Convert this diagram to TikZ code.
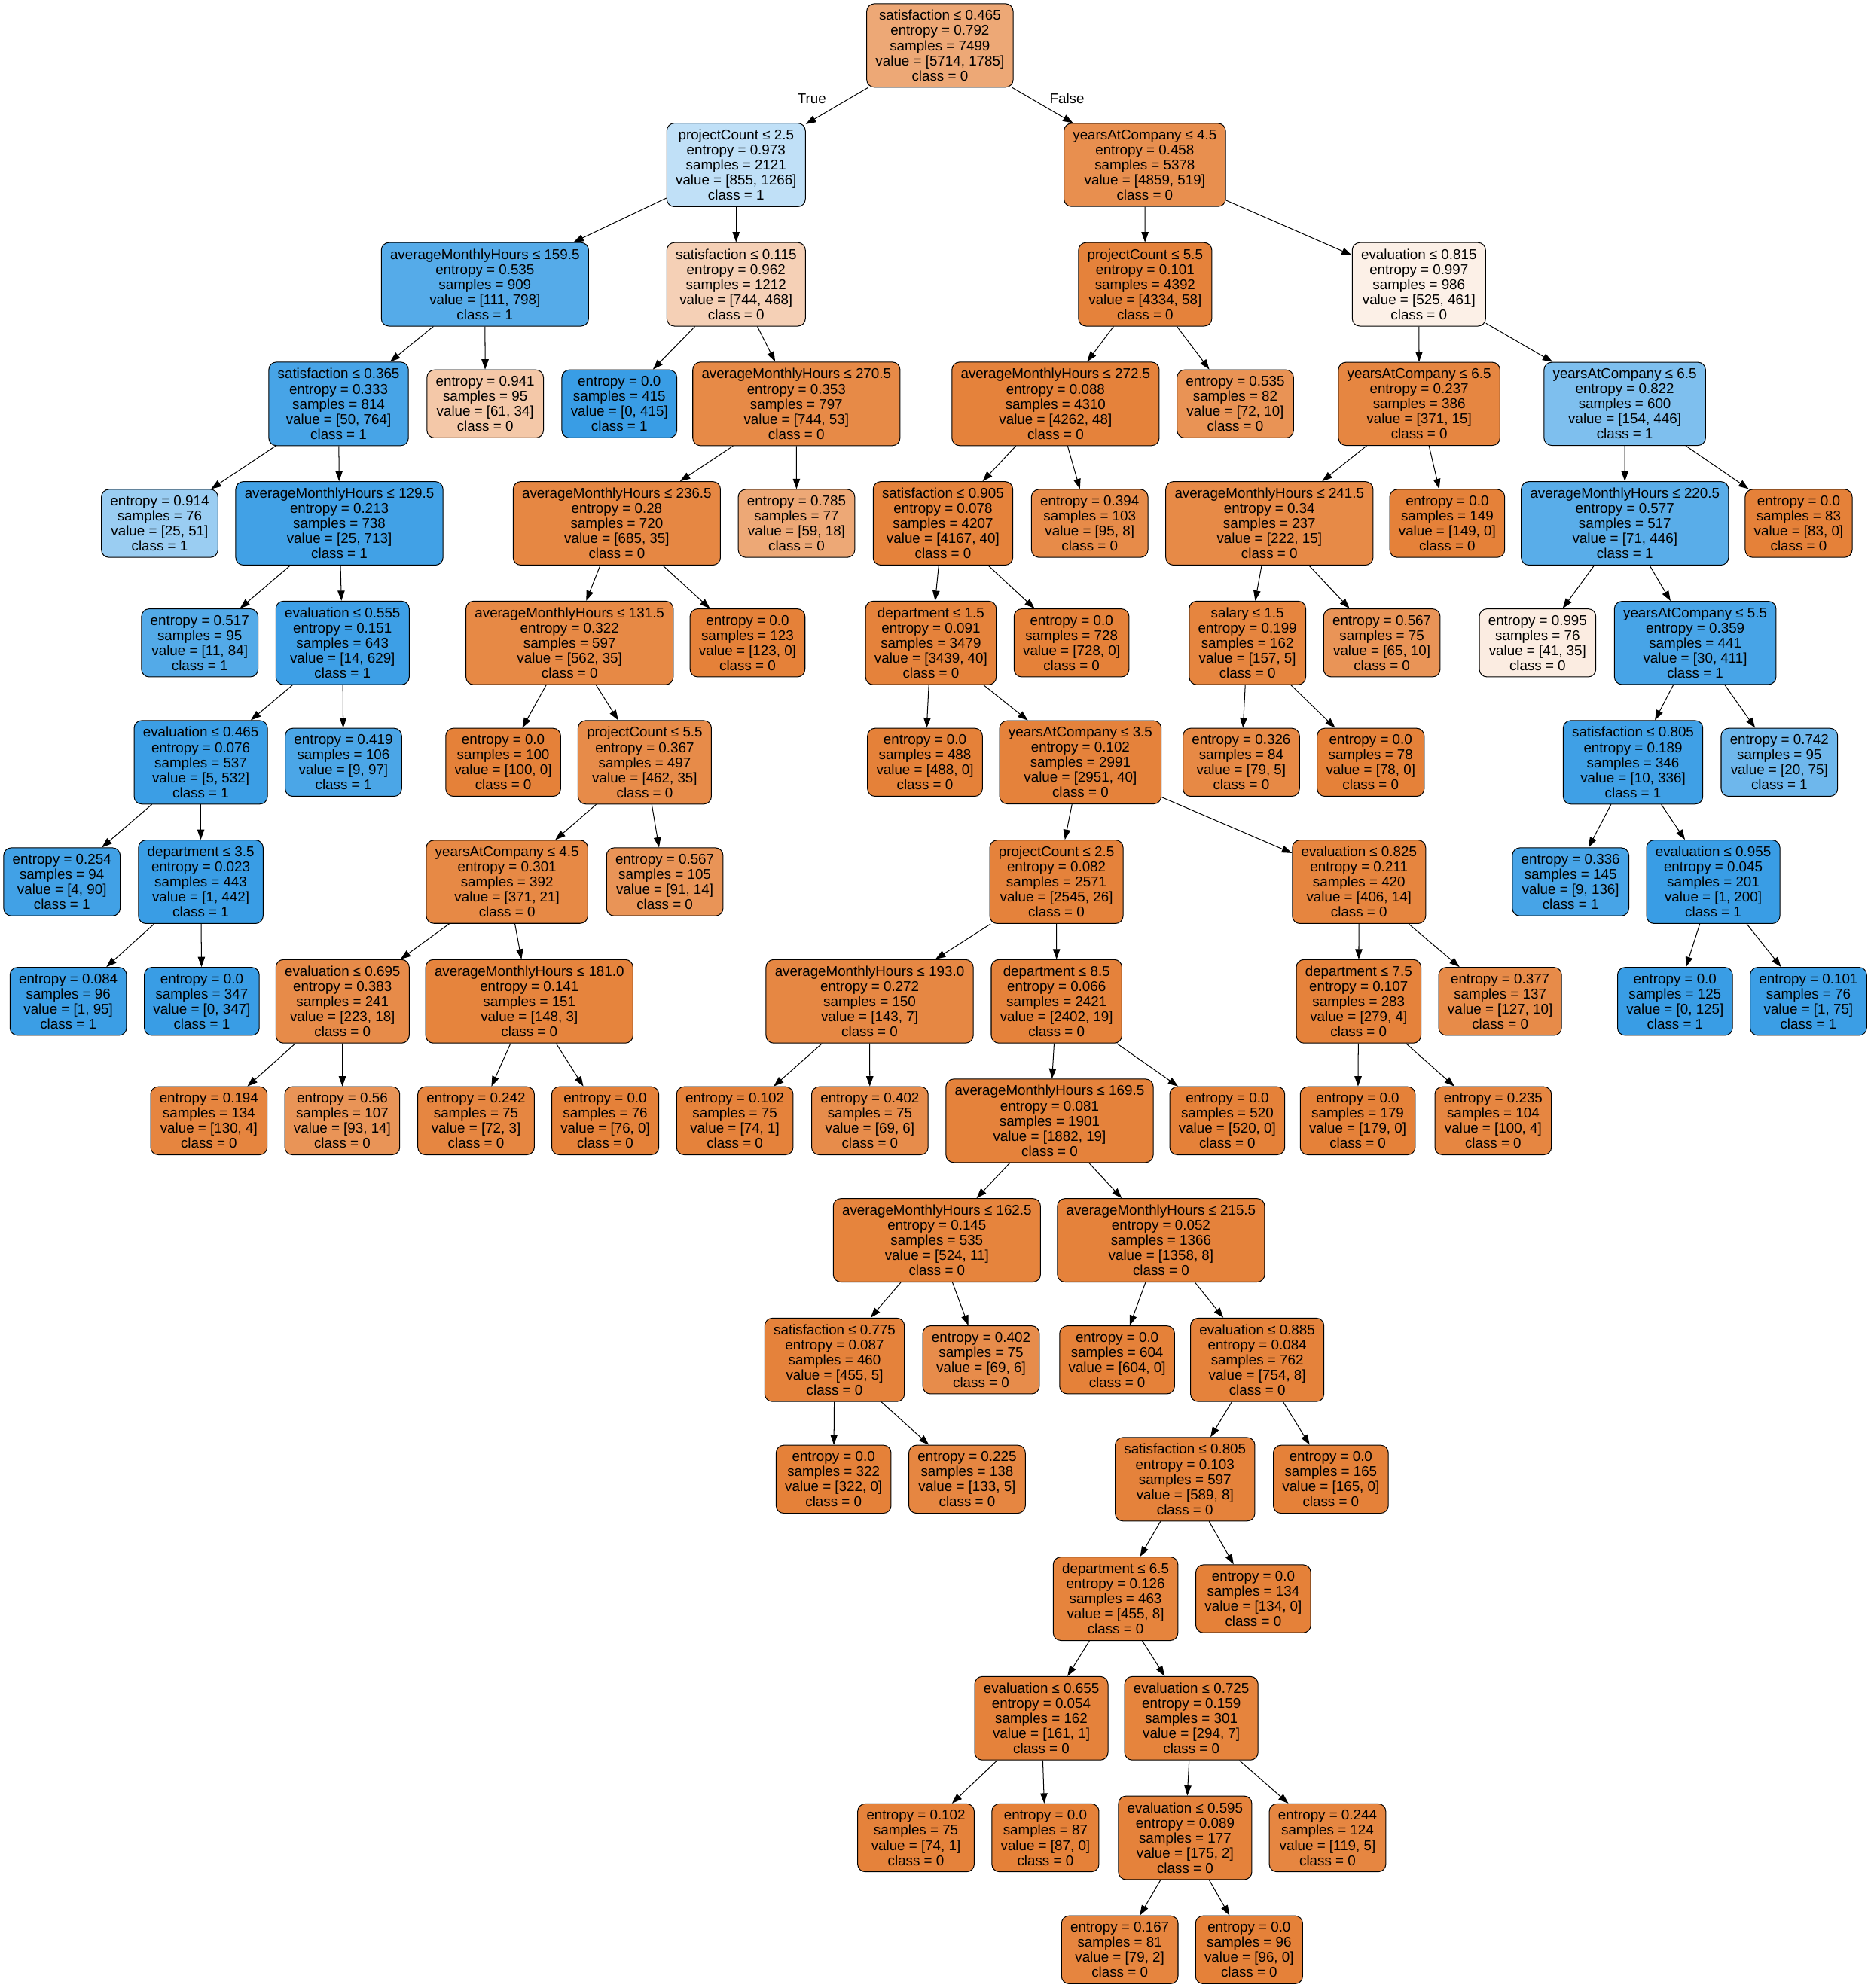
\documentclass[tikz,border=0pt]{standalone}
\usepackage{fontspec}
\setmainfont{Liberation Sans}
\usetikzlibrary{arrows.meta}
\definecolor{classzero}{RGB}{229,129,57}
\definecolor{classone}{RGB}{57,157,229}

\begin{document}
\begin{tikzpicture}[
    x=1pt, y=-1pt,
    align=center,
    box/.style={draw, line width=0.6pt, rounded corners=6pt, inner xsep=7pt, inner ysep=5pt, font=\fontsize{11.15}{11.9}\selectfont},
    tnode/.style 2 args={box, /utils/exec={\pgfmathtruncatemacro\tmix{round(100*(1-min(#1,#2)/max(#1,#2)))}\ifnum#1<#2\relax\colorlet{tfill}{classone!\tmix!white}\else\colorlet{tfill}{classzero!\tmix!white}\fi}, fill=tfill},
    lbl/.style={inner sep=0pt, font=\fontsize{11.15}{11.9}\selectfont},
    arrow/.style={-{Triangle[length=8pt, width=5.6pt]}, line width=0.6pt}
]
\useasboundingbox[fill=white] (0,0) rectangle (1474.2,1566.8);

% Nodes
\node (n0) [tnode={5714}{1785}] at (740.6,35.8) {satisfaction ≤ 0.465\\entropy = 0.792\\samples = 7499\\value = [5714, 1785]\\class = 0};
\node (n1) [tnode={855}{1266}] at (580.0,130.0) {projectCount ≤ 2.5\\entropy = 0.973\\samples = 2121\\value = [855, 1266]\\class = 1};
\node (n2) [tnode={111}{798}] at (382.1,224.1) {averageMonthlyHours ≤ 159.5\\entropy = 0.535\\samples = 909\\value = [111, 798]\\class = 1};
\node (n3) [tnode={50}{764}] at (266.8,318.3) {satisfaction ≤ 0.365\\entropy = 0.333\\samples = 814\\value = [50, 764]\\class = 1};
\node (n4) [tnode={25}{51}] at (125.8,412.5) {entropy = 0.914\\samples = 76\\value = [25, 51]\\class = 1};
\node (n5) [tnode={25}{713}] at (267.4,412.5) {averageMonthlyHours ≤ 129.5\\entropy = 0.213\\samples = 738\\value = [25, 713]\\class = 1};
\node (n6) [tnode={11}{84}] at (157.4,506.7) {entropy = 0.517\\samples = 95\\value = [11, 84]\\class = 1};
\node (n7) [tnode={14}{629}] at (269.9,506.7) {evaluation ≤ 0.555\\entropy = 0.151\\samples = 643\\value = [14, 629]\\class = 1};
\node (n8) [tnode={5}{532}] at (158.2,600.8) {evaluation ≤ 0.465\\entropy = 0.076\\samples = 537\\value = [5, 532]\\class = 1};
\node (n9) [tnode={4}{90}] at (48.8,695.0) {entropy = 0.254\\samples = 94\\value = [4, 90]\\class = 1};
\node (n10) [tnode={1}{442}] at (158.2,695.0) {department ≤ 3.5\\entropy = 0.023\\samples = 443\\value = [1, 442]\\class = 1};
\node (n11) [tnode={1}{95}] at (53.8,789.2) {entropy = 0.084\\samples = 96\\value = [1, 95]\\class = 1};
\node (n12) [tnode={0}{347}] at (159.0,789.2) {entropy = 0.0\\samples = 347\\value = [0, 347]\\class = 1};
\node (n13) [tnode={9}{97}] at (270.6,600.8) {entropy = 0.419\\samples = 106\\value = [9, 97]\\class = 1};
\node (n14) [tnode={61}{34}] at (382.3,318.3) {entropy = 0.941\\samples = 95\\value = [61, 34]\\class = 0};
\node (n15) [tnode={744}{468}] at (580.0,224.1) {satisfaction ≤ 0.115\\entropy = 0.962\\samples = 1212\\value = [744, 468]\\class = 0};
\node (n16) [tnode={0}{415}] at (488.0,318.3) {entropy = 0.0\\samples = 415\\value = [0, 415]\\class = 1};
\node (n17) [tnode={744}{53}] at (627.5,318.3) {averageMonthlyHours ≤ 270.5\\entropy = 0.353\\samples = 797\\value = [744, 53]\\class = 0};
\node (n18) [tnode={685}{35}] at (486.0,412.5) {averageMonthlyHours ≤ 236.5\\entropy = 0.28\\samples = 720\\value = [685, 35]\\class = 0};
\node (n19) [tnode={562}{35}] at (448.8,506.7) {averageMonthlyHours ≤ 131.5\\entropy = 0.322\\samples = 597\\value = [562, 35]\\class = 0};
\node (n20) [tnode={100}{0}] at (396.5,600.8) {entropy = 0.0\\samples = 100\\value = [100, 0]\\class = 0};
\node (n21) [tnode={462}{35}] at (508.0,600.8) {projectCount ≤ 5.5\\entropy = 0.367\\samples = 497\\value = [462, 35]\\class = 0};
\node (n22) [tnode={371}{21}] at (399.5,695.0) {yearsAtCompany ≤ 4.5\\entropy = 0.301\\samples = 392\\value = [371, 21]\\class = 0};
\node (n23) [tnode={223}{18}] at (269.9,789.2) {evaluation ≤ 0.695\\entropy = 0.383\\samples = 241\\value = [223, 18]\\class = 0};
\node (n24) [tnode={130}{4}] at (164.6,883.3) {entropy = 0.194\\samples = 134\\value = [130, 4]\\class = 0};
\node (n25) [tnode={93}{14}] at (269.7,883.3) {entropy = 0.56\\samples = 107\\value = [93, 14]\\class = 0};
\node (n26) [tnode={148}{3}] at (417.1,789.2) {averageMonthlyHours ≤ 181.0\\entropy = 0.141\\samples = 151\\value = [148, 3]\\class = 0};
\node (n27) [tnode={72}{3}] at (375.1,883.3) {entropy = 0.242\\samples = 75\\value = [72, 3]\\class = 0};
\node (n28) [tnode={76}{0}] at (476.9,883.3) {entropy = 0.0\\samples = 76\\value = [76, 0]\\class = 0};
\node (n29) [tnode={91}{14}] at (523.8,695.0) {entropy = 0.567\\samples = 105\\value = [91, 14]\\class = 0};
\node (n30) [tnode={123}{0}] at (589.0,506.7) {entropy = 0.0\\samples = 123\\value = [123, 0]\\class = 0};
\node (n31) [tnode={59}{18}] at (627.6,412.5) {entropy = 0.785\\samples = 77\\value = [59, 18]\\class = 0};
\node (n32) [tnode={4859}{519}] at (902.0,130.0) {yearsAtCompany ≤ 4.5\\entropy = 0.458\\samples = 5378\\value = [4859, 519]\\class = 0};
\node (n33) [tnode={4334}{58}] at (902.3,224.1) {projectCount ≤ 5.5\\entropy = 0.101\\samples = 4392\\value = [4334, 58]\\class = 0};
\node (n34) [tnode={4262}{48}] at (831.7,318.3) {averageMonthlyHours ≤ 272.5\\entropy = 0.088\\samples = 4310\\value = [4262, 48]\\class = 0};
\node (n35) [tnode={4167}{40}] at (743.0,412.5) {satisfaction ≤ 0.905\\entropy = 0.078\\samples = 4207\\value = [4167, 40]\\class = 0};
\node (n36) [tnode={3439}{40}] at (733.5,506.7) {department ≤ 1.5\\entropy = 0.091\\samples = 3479\\value = [3439, 40]\\class = 0};
\node (n37) [tnode={488}{0}] at (728.8,600.8) {entropy = 0.0\\samples = 488\\value = [488, 0]\\class = 0};
\node (n38) [tnode={2951}{40}] at (851.3,600.8) {yearsAtCompany ≤ 3.5\\entropy = 0.102\\samples = 2991\\value = [2951, 40]\\class = 0};
\node (n39) [tnode={2545}{26}] at (832.4,695.0) {projectCount ≤ 2.5\\entropy = 0.082\\samples = 2571\\value = [2545, 26]\\class = 0};
\node (n40) [tnode={143}{7}] at (685.2,789.2) {averageMonthlyHours ≤ 193.0\\entropy = 0.272\\samples = 150\\value = [143, 7]\\class = 0};
\node (n41) [tnode={74}{1}] at (579.0,883.3) {entropy = 0.102\\samples = 75\\value = [74, 1]\\class = 0};
\node (n42) [tnode={69}{6}] at (685.4,883.3) {entropy = 0.402\\samples = 75\\value = [69, 6]\\class = 0};
\node (n43) [tnode={2402}{19}] at (832.5,789.2) {department ≤ 8.5\\entropy = 0.066\\samples = 2421\\value = [2402, 19]\\class = 0};
\node (n44) [tnode={1882}{19}] at (827.0,883.3) {averageMonthlyHours ≤ 169.5\\entropy = 0.081\\samples = 1901\\value = [1882, 19]\\class = 0};
\node (n45) [tnode={524}{11}] at (738.2,977.5) {averageMonthlyHours ≤ 162.5\\entropy = 0.145\\samples = 535\\value = [524, 11]\\class = 0};
\node (n46) [tnode={455}{5}] at (657.6,1071.7) {satisfaction ≤ 0.775\\entropy = 0.087\\samples = 460\\value = [455, 5]\\class = 0};
\node (n47) [tnode={322}{0}] at (656.8,1165.8) {entropy = 0.0\\samples = 322\\value = [322, 0]\\class = 0};
\node (n48) [tnode={133}{5}] at (762.0,1165.8) {entropy = 0.225\\samples = 138\\value = [133, 5]\\class = 0};
\node (n49) [tnode={69}{6}] at (773.0,1071.7) {entropy = 0.402\\samples = 75\\value = [69, 6]\\class = 0};
\node (n50) [tnode={1358}{8}] at (914.8,977.5) {averageMonthlyHours ≤ 215.5\\entropy = 0.052\\samples = 1366\\value = [1358, 8]\\class = 0};
\node (n51) [tnode={604}{0}] at (880.2,1071.7) {entropy = 0.0\\samples = 604\\value = [604, 0]\\class = 0};
\node (n52) [tnode={754}{8}] at (990.6,1071.7) {evaluation ≤ 0.885\\entropy = 0.084\\samples = 762\\value = [754, 8]\\class = 0};
\node (n53) [tnode={589}{8}] at (933.7,1165.8) {satisfaction ≤ 0.805\\entropy = 0.103\\samples = 597\\value = [589, 8]\\class = 0};
\node (n54) [tnode={455}{8}] at (879.0,1260.0) {department ≤ 6.5\\entropy = 0.126\\samples = 463\\value = [455, 8]\\class = 0};
\node (n55) [tnode={161}{1}] at (820.5,1354.2) {evaluation ≤ 0.655\\entropy = 0.054\\samples = 162\\value = [161, 1]\\class = 0};
\node (n56) [tnode={74}{1}] at (721.7,1448.4) {entropy = 0.102\\samples = 75\\value = [74, 1]\\class = 0};
\node (n57) [tnode={87}{0}] at (823.7,1448.4) {entropy = 0.0\\samples = 87\\value = [87, 0]\\class = 0};
\node (n58) [tnode={294}{7}] at (938.7,1354.2) {evaluation ≤ 0.725\\entropy = 0.159\\samples = 301\\value = [294, 7]\\class = 0};
\node (n59) [tnode={175}{2}] at (933.8,1448.4) {evaluation ≤ 0.595\\entropy = 0.089\\samples = 177\\value = [175, 2]\\class = 0};
\node (n60) [tnode={79}{2}] at (882.3,1536.7) {entropy = 0.167\\samples = 81\\value = [79, 2]\\class = 0};
\node (n61) [tnode={96}{0}] at (984.2,1536.7) {entropy = 0.0\\samples = 96\\value = [96, 0]\\class = 0};
\node (n62) [tnode={119}{5}] at (1046.0,1448.4) {entropy = 0.244\\samples = 124\\value = [119, 5]\\class = 0};
\node (n63) [tnode={134}{0}] at (987.5,1260.0) {entropy = 0.0\\samples = 134\\value = [134, 0]\\class = 0};
\node (n64) [tnode={165}{0}] at (1048.6,1165.8) {entropy = 0.0\\samples = 165\\value = [165, 0]\\class = 0};
\node (n65) [tnode={520}{0}] at (967.0,883.3) {entropy = 0.0\\samples = 520\\value = [520, 0]\\class = 0};
\node (n66) [tnode={406}{14}] at (1070.8,695.0) {evaluation ≤ 0.825\\entropy = 0.211\\samples = 420\\value = [406, 14]\\class = 0};
\node (n67) [tnode={279}{4}] at (1070.5,789.2) {department ≤ 7.5\\entropy = 0.107\\samples = 283\\value = [279, 4]\\class = 0};
\node (n68) [tnode={179}{0}] at (1069.8,883.3) {entropy = 0.0\\samples = 179\\value = [179, 0]\\class = 0};
\node (n69) [tnode={100}{4}] at (1176.5,883.3) {entropy = 0.235\\samples = 104\\value = [100, 4]\\class = 0};
\node (n70) [tnode={127}{10}] at (1182.0,789.2) {entropy = 0.377\\samples = 137\\value = [127, 10]\\class = 0};
\node (n71) [tnode={728}{0}] at (844.3,506.7) {entropy = 0.0\\samples = 728\\value = [728, 0]\\class = 0};
\node (n72) [tnode={95}{8}] at (858.6,412.5) {entropy = 0.394\\samples = 103\\value = [95, 8]\\class = 0};
\node (n73) [tnode={72}{10}] at (973.3,318.3) {entropy = 0.535\\samples = 82\\value = [72, 10]\\class = 0};
\node (n74) [tnode={525}{461}] at (1118.0,224.1) {evaluation ≤ 0.815\\entropy = 0.997\\samples = 986\\value = [525, 461]\\class = 0};
\node (n75) [tnode={371}{15}] at (1118.2,318.3) {yearsAtCompany ≤ 6.5\\entropy = 0.237\\samples = 386\\value = [371, 15]\\class = 0};
\node (n76) [tnode={222}{15}] at (1000.2,412.5) {averageMonthlyHours ≤ 241.5\\entropy = 0.34\\samples = 237\\value = [222, 15]\\class = 0};
\node (n77) [tnode={157}{5}] at (982.9,506.7) {salary ≤ 1.5\\entropy = 0.199\\samples = 162\\value = [157, 5]\\class = 0};
\node (n78) [tnode={79}{5}] at (978.0,600.8) {entropy = 0.326\\samples = 84\\value = [79, 5]\\class = 0};
\node (n79) [tnode={78}{0}] at (1080.0,600.8) {entropy = 0.0\\samples = 78\\value = [78, 0]\\class = 0};
\node (n80) [tnode={65}{10}] at (1088.8,506.7) {entropy = 0.567\\samples = 75\\value = [65, 10]\\class = 0};
\node (n81) [tnode={149}{0}] at (1140.3,412.5) {entropy = 0.0\\samples = 149\\value = [149, 0]\\class = 0};
\node (n82) [tnode={154}{446}] at (1280.2,318.3) {yearsAtCompany ≤ 6.5\\entropy = 0.822\\samples = 600\\value = [154, 446]\\class = 1};
\node (n83) [tnode={71}{446}] at (1280.3,412.5) {averageMonthlyHours ≤ 220.5\\entropy = 0.577\\samples = 517\\value = [71, 446]\\class = 1};
\node (n84) [tnode={41}{35}] at (1211.5,506.7) {entropy = 0.995\\samples = 76\\value = [41, 35]\\class = 0};
\node (n85) [tnode={30}{411}] at (1335.7,506.7) {yearsAtCompany ≤ 5.5\\entropy = 0.359\\samples = 441\\value = [30, 411]\\class = 1};
\node (n86) [tnode={10}{336}] at (1286.7,600.8) {satisfaction ≤ 0.805\\entropy = 0.189\\samples = 346\\value = [10, 336]\\class = 1};
\node (n87) [tnode={9}{136}] at (1237.5,695.0) {entropy = 0.336\\samples = 145\\value = [9, 136]\\class = 1};
\node (n88) [tnode={1}{200}] at (1349.9,695.0) {evaluation ≤ 0.955\\entropy = 0.045\\samples = 201\\value = [1, 200]\\class = 1};
\node (n89) [tnode={0}{125}] at (1319.8,789.2) {entropy = 0.0\\samples = 125\\value = [0, 125]\\class = 1};
\node (n90) [tnode={1}{75}] at (1424.9,789.2) {entropy = 0.101\\samples = 76\\value = [1, 75]\\class = 1};
\node (n91) [tnode={20}{75}] at (1402.0,600.8) {entropy = 0.742\\samples = 95\\value = [20, 75]\\class = 1};
\node (n92) [tnode={83}{0}] at (1417.2,412.5) {entropy = 0.0\\samples = 83\\value = [83, 0]\\class = 0};

% Edge labels
\node (truelbl) [lbl] at (639.7,77.8) {True};
\node (falselbl) [lbl] at (840.7,77.8) {False};

% Edges
\draw [arrow] (n0) -- (n1);
\draw [arrow] (n0) -- (n32);

\draw [arrow] (n1) -- (n2);
\draw [arrow] (n1) -- (n15);
\draw [arrow] (n2) -- (n3);
\draw [arrow] (n2) -- (n14);
\draw [arrow] (n3) -- (n4);
\draw [arrow] (n3) -- (n5);
\draw [arrow] (n5) -- (n6);
\draw [arrow] (n5) -- (n7);
\draw [arrow] (n7) -- (n8);
\draw [arrow] (n7) -- (n13);
\draw [arrow] (n8) -- (n9);
\draw [arrow] (n8) -- (n10);
\draw [arrow] (n10) -- (n11);
\draw [arrow] (n10) -- (n12);
\draw [arrow] (n15) -- (n16);
\draw [arrow] (n15) -- (n17);
\draw [arrow] (n17) -- (n18);
\draw [arrow] (n17) -- (n31);
\draw [arrow] (n18) -- (n19);
\draw [arrow] (n18) -- (n30);
\draw [arrow] (n19) -- (n20);
\draw [arrow] (n19) -- (n21);
\draw [arrow] (n21) -- (n22);
\draw [arrow] (n21) -- (n29);
\draw [arrow] (n22) -- (n23);
\draw [arrow] (n22) -- (n26);
\draw [arrow] (n23) -- (n24);
\draw [arrow] (n23) -- (n25);
\draw [arrow] (n26) -- (n27);
\draw [arrow] (n26) -- (n28);

\draw [arrow] (n32) -- (n33);
\draw [arrow] (n32) -- (n74);
\draw [arrow] (n33) -- (n34);
\draw [arrow] (n33) -- (n73);
\draw [arrow] (n34) -- (n35);
\draw [arrow] (n34) -- (n72);
\draw [arrow] (n35) -- (n36);
\draw [arrow] (n35) -- (n71);
\draw [arrow] (n36) -- (n37);
\draw [arrow] (n36) -- (n38);
\draw [arrow] (n38) -- (n39);
\draw [arrow] (n38) -- (n66);
\draw [arrow] (n39) -- (n40);
\draw [arrow] (n39) -- (n43);
\draw [arrow] (n40) -- (n41);
\draw [arrow] (n40) -- (n42);
\draw [arrow] (n43) -- (n44);
\draw [arrow] (n43) -- (n65);
\draw [arrow] (n44) -- (n45);
\draw [arrow] (n44) -- (n50);
\draw [arrow] (n45) -- (n46);
\draw [arrow] (n45) -- (n49);
\draw [arrow] (n46) -- (n47);
\draw [arrow] (n46) -- (n48);
\draw [arrow] (n50) -- (n51);
\draw [arrow] (n50) -- (n52);
\draw [arrow] (n52) -- (n53);
\draw [arrow] (n52) -- (n64);
\draw [arrow] (n53) -- (n54);
\draw [arrow] (n53) -- (n63);
\draw [arrow] (n54) -- (n55);
\draw [arrow] (n54) -- (n58);
\draw [arrow] (n55) -- (n56);
\draw [arrow] (n55) -- (n57);
\draw [arrow] (n58) -- (n59);
\draw [arrow] (n58) -- (n62);
\draw [arrow] (n59) -- (n60);
\draw [arrow] (n59) -- (n61);
\draw [arrow] (n66) -- (n67);
\draw [arrow] (n66) -- (n70);
\draw [arrow] (n67) -- (n68);
\draw [arrow] (n67) -- (n69);

\draw [arrow] (n74) -- (n75);
\draw [arrow] (n74) -- (n82);
\draw [arrow] (n75) -- (n76);
\draw [arrow] (n75) -- (n81);
\draw [arrow] (n76) -- (n77);
\draw [arrow] (n76) -- (n80);
\draw [arrow] (n77) -- (n78);
\draw [arrow] (n77) -- (n79);
\draw [arrow] (n82) -- (n83);
\draw [arrow] (n82) -- (n92);
\draw [arrow] (n83) -- (n84);
\draw [arrow] (n83) -- (n85);
\draw [arrow] (n85) -- (n86);
\draw [arrow] (n85) -- (n91);
\draw [arrow] (n86) -- (n87);
\draw [arrow] (n86) -- (n88);
\draw [arrow] (n88) -- (n89);
\draw [arrow] (n88) -- (n90);

\end{tikzpicture}
\end{document}
